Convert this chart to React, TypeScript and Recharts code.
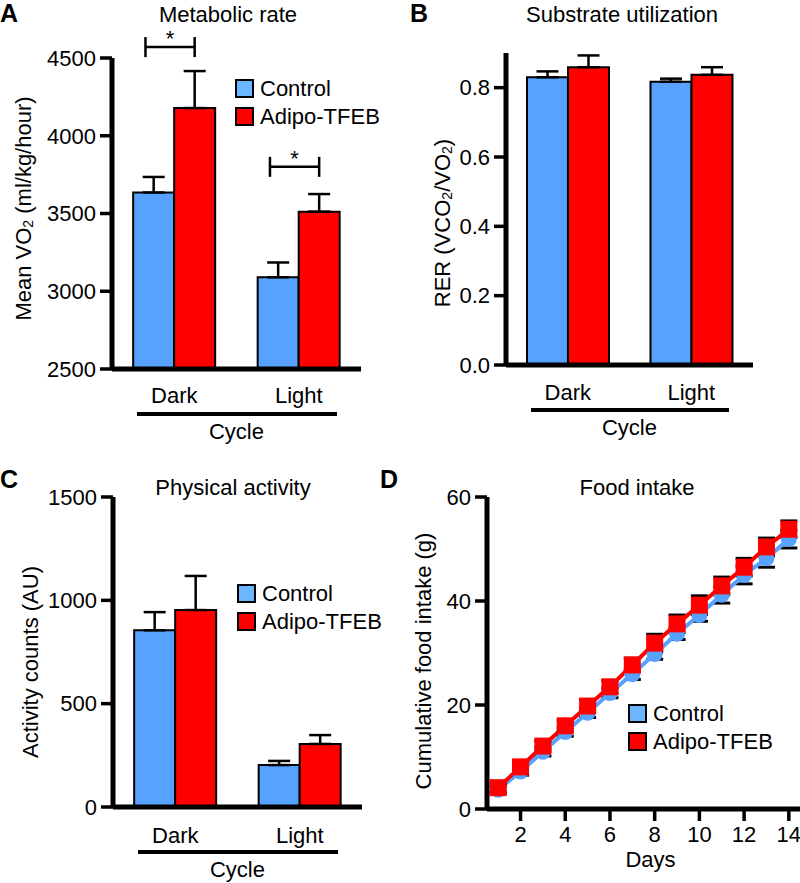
import React from "react";
import {
  BarChart,
  Bar,
  XAxis,
  YAxis,
  ErrorBar,
  Legend,
  LabelList,
  LineChart,
  Line,
} from "recharts";

const FONT = '"Liberation Sans", Arial, Helvetica, sans-serif';
const BLUE = "#57a1ff";
const BLUE_KEY = "#6cb6ff";
const RED = "#ff0000";

const seriesNames = ["Control", "Adipo-TFEB"];
const keyColors = [BLUE_KEY, RED];
const cycles = ["Dark", "Light"];

// A: metabolic rate
const vo2Control = [3635, 3090];
const vo2ControlSem = [100, 95];
const vo2Tfeb = [4178, 3512];
const vo2TfebSem = [238, 113];
const vo2Star = [4570, 3800];
const vo2Ticks = [2500, 3000, 3500, 4000, 4500];

// B: substrate utilization
const rerControl = [0.83, 0.817];
const rerControlSem = [0.017, 0.009];
const rerTfeb = [0.859, 0.837];
const rerTfebSem = [0.034, 0.022];
const rerTicks = [0, 0.2, 0.4, 0.6, 0.8];

// C: physical activity
const actControl = [855, 203];
const actControlSem = [88, 20];
const actTfeb = [953, 305];
const actTfebSem = [165, 43];
const actTicks = [0, 500, 1000, 1500];

// D: food intake
const days = [1, 2, 3, 4, 5, 6, 7, 8, 9, 10, 11, 12, 13, 14];
const foodControl = [3.7, 7.2, 11.0, 14.8, 18.5, 22.3, 25.9, 29.8, 33.7, 37.3, 41.2, 45.0, 48.2, 51.9];
const foodControlSem = [0.6, 0.7, 0.8, 0.8, 0.9, 0.9, 1.0, 1.0, 1.1, 1.2, 1.6, 1.7, 1.7, 1.7];
const foodTfeb = [4.1, 8.1, 12.1, 16.0, 19.8, 23.5, 27.7, 31.9, 35.6, 39.2, 42.9, 46.5, 50.4, 53.8];
const foodTfebSem = [0.8, 0.9, 1.0, 1.0, 1.1, 1.2, 1.3, 1.7, 1.7, 1.8, 1.7, 1.7, 1.7, 1.6];
const dayTicks = [2, 4, 6, 8, 10, 12, 14];
const foodTicks = [0, 20, 40, 60];

const makeBars = (ctrl: number[], ctrlSem: number[], tfeb: number[], tfebSem: number[]) =>
  cycles.map((c, i) => ({
    cycle: c,
    control: ctrl[i],
    controlErr: [0, ctrlSem[i]],
    tfeb: tfeb[i],
    tfebErr: [0, tfebSem[i]],
  }));

const vo2Data = makeBars(vo2Control, vo2ControlSem, vo2Tfeb, vo2TfebSem);
const rerData = makeBars(rerControl, rerControlSem, rerTfeb, rerTfebSem);
const actData = makeBars(actControl, actControlSem, actTfeb, actTfebSem);
const foodData = days.map((d, i) => ({
  day: d,
  control: foodControl[i],
  controlErr: foodControlSem[i],
  tfeb: foodTfeb[i],
  tfebErr: foodTfebSem[i],
}));

const tickStyle = { fill: "#000", fontSize: 22, fontFamily: FONT };
const axisLine = { stroke: "#000", strokeWidth: 5 };
const tickLine = { stroke: "#000", strokeWidth: 3.5 };

const KeyBox = () => (
  <div style={{ fontFamily: FONT, fontSize: 22, color: "#000" }}>
    {seriesNames.map((name, i) => (
      <div key={name} style={{ display: "flex", alignItems: "center", height: 28, whiteSpace: "nowrap" }}>
        <div
          style={{
            width: 15,
            height: 15,
            border: "2px solid #000",
            background: keyColors[i],
            marginRight: 6,
          }}
        />
        {name}
      </div>
    ))}
  </div>
);

// rotated y axis title, centred on the plot height plus a small shift
const yTitle = (cx: number, shift: number, content: React.ReactNode) => (props: any) => {
  const vb = props.viewBox || {};
  const cy = vb.y + vb.height / 2 + shift;
  return (
    <text
      x={cx}
      y={cy}
      transform={`rotate(-90 ${cx} ${cy})`}
      textAnchor="middle"
      dominantBaseline="central"
      fontSize={22}
      fontFamily={FONT}
      fill="#000"
    >
      {content}
    </text>
  );
};

const cycleLabel = (props: any) => {
  const vb = props.viewBox || {};
  return (
    <g>
      <line x1={vb.x + 25} x2={vb.x + vb.width - 24} y1={vb.y + 45} y2={vb.y + 45} stroke="#000" strokeWidth={4} />
      <text x={vb.x + vb.width / 2} y={vb.y + 70} textAnchor="middle" fontSize={22} fontFamily={FONT} fill="#000">
        Cycle
      </text>
    </g>
  );
};

const daysLabel = (props: any) => {
  const vb = props.viewBox || {};
  return (
    <text x={vb.x + vb.width / 2 + 7} y={vb.y + 58} textAnchor="middle" fontSize={22} fontFamily={FONT} fill="#000">
      Days
    </text>
  );
};

const StarBracket = (props: any) => {
  const vb = props.viewBox || props;
  const { x, y, width, height } = vb;
  const i = props.index ?? 0;
  const base = vo2Ticks[0];
  const perUnit = height / (vo2Tfeb[i] - base);
  const by = y + height - (vo2Star[i] - base) * perUnit;
  const x1 = x - width * 0.7;
  const x2 = x + width / 2;
  return (
    <g>
      <line x1={x1} x2={x2} y1={by} y2={by} stroke="#000" strokeWidth={2.5} />
      <line x1={x1} x2={x1} y1={by - 10} y2={by + 10} stroke="#000" strokeWidth={2.5} />
      <line x1={x2} x2={x2} y1={by - 10} y2={by + 10} stroke="#000" strokeWidth={2.5} />
      <text x={(x1 + x2) / 2} y={by - 1} textAnchor="middle" fontSize={22} fontFamily={FONT} fill="#000">
        *
      </text>
    </g>
  );
};

type BarPanelProps = {
  data: any[];
  domain: [number, number];
  ticks: number[];
  fmt?: (v: number) => string;
  height: number;
  top: number;
  right: number;
  yWidth: number;
  xHeight: number;
  tickGap: number;
  title: (props: any) => React.ReactNode;
  legend?: { left: number; top: number };
  star?: boolean;
};

function BarPanel(p: BarPanelProps) {
  return (
    <BarChart
      width={400}
      height={p.height}
      data={p.data}
      margin={{ top: p.top, right: p.right, left: 0, bottom: 0 }}
      barCategoryGap="17%"
      barGap={0}
    >
      <XAxis
        dataKey="cycle"
        height={p.xHeight}
        axisLine={axisLine}
        tickLine={false}
        tickSize={0}
        tickMargin={p.tickGap}
        tick={tickStyle}
        label={cycleLabel}
      />
      <YAxis
        type="number"
        width={p.yWidth}
        domain={p.domain}
        ticks={p.ticks}
        interval={0}
        tickFormatter={p.fmt}
        axisLine={axisLine}
        tickLine={tickLine}
        tickSize={12}
        tickMargin={4}
        tick={tickStyle}
        label={p.title}
      />
      {p.legend && (
        <Legend
          verticalAlign="middle"
          align="center"
          content={<KeyBox />}
          wrapperStyle={{ left: p.legend.left, top: p.legend.top, width: "auto" }}
        />
      )}
      <Bar dataKey="control" name="Control" fill={BLUE} stroke="#000" strokeWidth={2} isAnimationActive={false}>
        <ErrorBar dataKey="controlErr" width={11} stroke="#000" strokeWidth={2.5} direction="y" />
      </Bar>
      <Bar dataKey="tfeb" name="Adipo-TFEB" fill={RED} stroke="#000" strokeWidth={2} isAnimationActive={false}>
        <ErrorBar dataKey="tfebErr" width={11} stroke="#000" strokeWidth={2.5} direction="y" />
        {p.star && <LabelList dataKey="tfeb" content={StarBracket} />}
      </Bar>
    </BarChart>
  );
}

const circleDot = (props: any) => (
  <circle key={`c-${props.index}`} cx={props.cx} cy={props.cy} r={8} fill={BLUE} />
);
const squareDot = (props: any) => (
  <rect key={`s-${props.index}`} x={props.cx - 8.5} y={props.cy - 8.5} width={17} height={17} fill={RED} />
);

function FoodPanel() {
  return (
    <LineChart width={400} height={443} data={foodData} margin={{ top: 57, right: 0, left: 0, bottom: 0 }}>
      <XAxis
        dataKey="day"
        type="number"
        domain={[0.5, 14.5]}
        ticks={dayTicks}
        interval={0}
        height={74}
        axisLine={axisLine}
        tickLine={tickLine}
        tickSize={12}
        tickMargin={5}
        tick={tickStyle}
        label={daysLabel}
      />
      <YAxis
        type="number"
        width={87}
        domain={[0, 60]}
        ticks={foodTicks}
        interval={0}
        axisLine={axisLine}
        tickLine={tickLine}
        tickSize={12}
        tickMargin={4}
        tick={tickStyle}
        label={yTitle(23, 8, "Cumulative food intake (g)")}
      />
      <Legend
        verticalAlign="middle"
        align="center"
        content={<KeyBox />}
        wrapperStyle={{ left: 228, top: 259.5, width: "auto" }}
      />
      <Line
        dataKey="control"
        name="Control"
        type="linear"
        stroke={BLUE}
        strokeWidth={4}
        dot={circleDot}
        activeDot={false}
        isAnimationActive={false}
      >
        <ErrorBar dataKey="controlErr" width={8.5} stroke="#000" strokeWidth={3} direction="y" />
      </Line>
      <Line
        dataKey="tfeb"
        name="Adipo-TFEB"
        type="linear"
        stroke={RED}
        strokeWidth={4}
        dot={squareDot}
        activeDot={false}
        isAnimationActive={false}
      >
        <ErrorBar dataKey="tfebErr" width={8.5} stroke="#000" strokeWidth={3} direction="y" />
      </Line>
    </LineChart>
  );
}

const sub = (s: string) => (
  <tspan fontSize={14} dy={5}>
    {s}
  </tspan>
);

export default function App() {
  const letter = { fontSize: 25, fontWeight: 700, fontFamily: FONT, fill: "#000" };
  const head = { fontSize: 22, fontFamily: FONT, fill: "#000", textAnchor: "middle" as const };
  return (
    <div style={{ position: "absolute", left: 0, top: 0, width: 800, height: 883, background: "#fff" }}>
      <div style={{ position: "absolute", left: 0, top: 0 }}>
        <BarPanel
          data={vo2Data}
          domain={[2500, 4500]}
          ticks={vo2Ticks}
          height={450}
          top={58}
          right={39}
          yWidth={112}
          xHeight={81}
          tickGap={18}
          star
          legend={{ left: 235, top: 74.5 }}
          title={yTitle(23, -5, (
            <>
              Mean VO{sub("2")}
              <tspan dy={-5}> (ml/kg/hour)</tspan>
            </>
          ))}
        />
      </div>
      <div style={{ position: "absolute", left: 400, top: 0 }}>
        <BarPanel
          data={rerData}
          domain={[0, 0.9]}
          ticks={rerTicks}
          fmt={(v) => v.toFixed(1)}
          height={450}
          top={53}
          right={47}
          yWidth={106}
          xHeight={85}
          tickGap={19}
          title={yTitle(42, 14, (
            <>
              RER (VCO{sub("2")}
              <tspan dy={-5}>/VO</tspan>
              {sub("2")}
              <tspan dy={-5}>)</tspan>
            </>
          ))}
        />
      </div>
      <div style={{ position: "absolute", left: 0, top: 440 }}>
        <BarPanel
          data={actData}
          domain={[0, 1500]}
          ticks={actTicks}
          height={443}
          top={57}
          right={38}
          yWidth={113}
          xHeight={76}
          tickGap={20}
          legend={{ left: 237, top: 139.5 }}
          title={yTitle(30, 10, "Activity counts (AU)")}
        />
      </div>
      <div style={{ position: "absolute", left: 400, top: 440 }}>
        <FoodPanel />
      </div>
      <svg
        width={800}
        height={883}
        style={{ position: "absolute", left: 0, top: 0, pointerEvents: "none" }}
      >
        <text x={0} y={22} {...letter}>A</text>
        <text x={410} y={22} {...letter}>B</text>
        <text x={0} y={488} {...letter}>C</text>
        <text x={380} y={488} {...letter}>D</text>
        <text x={228} y={22} {...head}>Metabolic rate</text>
        <text x={622} y={22} {...head}>Substrate utilization</text>
        <text x={233} y={495} {...head}>Physical activity</text>
        <text x={637} y={495} {...head}>Food intake</text>
      </svg>
    </div>
  );
}
